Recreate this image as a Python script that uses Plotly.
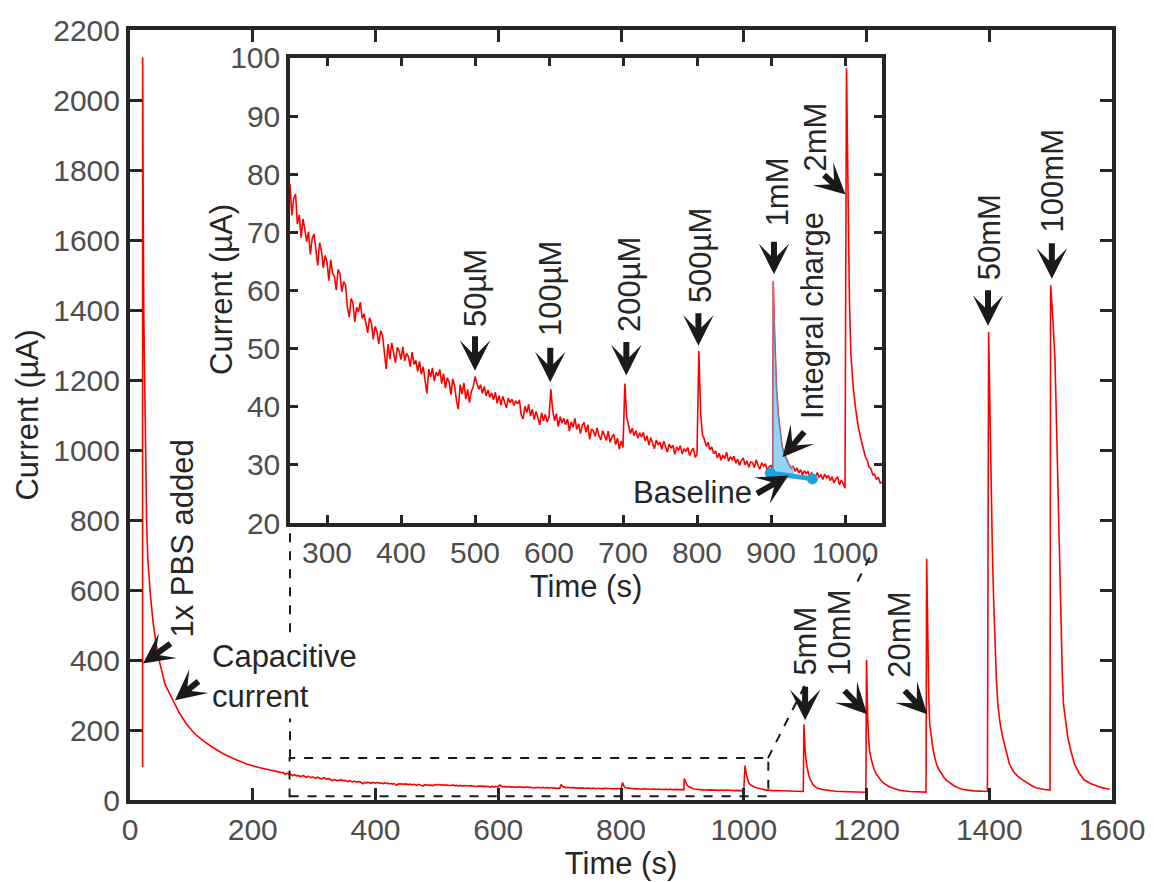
import numpy as np
import plotly.graph_objects as go

# ---------------------------------------------------------------------------
# Current trace (time in s, current in µA)
# ---------------------------------------------------------------------------
# Charging transient after 1x PBS is added
t_charge = [20.5, 20.6, 21.5, 22.5, 23.5, 25.5, 27, 29, 33, 38, 43, 49, 57, 63,
            70, 80, 92, 105, 120, 135, 152, 170, 190, 210, 228, 240, 245]
i_charge = [94, 2122, 1700, 1380, 1180, 1000, 800, 690, 590, 502, 440, 388, 331,
            308, 285, 250, 217, 190, 168, 150, 132, 117, 103, 93, 85, 81, 79]

# Low-concentration injections (50 µM ... 2 mM)
t_low = [
    250, 252.5, 255, 257.5, 260, 262.5, 265, 267.5, 270, 272.5,
    275, 277.5, 280, 282.5, 285, 287.5, 290, 292.5, 295, 297.5,
    300, 302.5, 305, 307.5, 310, 312.5, 315, 317.5, 320, 322.5,
    325, 327.5, 330, 332.5, 335, 337.5, 340, 342.5, 345, 347.5,
    350, 352.5, 355, 357.5, 360, 362.5, 365, 367.5, 370, 372.5,
    375, 377.5, 380, 382.5, 385, 387.5, 390, 392.5, 395, 397.5,
    400, 402.5, 405, 407.5, 410, 412.5, 415, 417.5, 420, 422.5,
    425, 427.5, 430, 432.5, 435, 437.5, 440, 442.5, 445, 447.5,
    450, 452.5, 455, 457.5, 460, 462.5, 465, 467.5, 470, 472.5,
    475, 477.5, 480, 482.5, 485, 487.5, 490, 492.5, 495, 497.5,
    500, 502.5, 505, 507.5, 510, 512.5, 515, 517.5, 520, 522.5,
    525, 527.5, 530, 532.5, 535, 537.5, 540, 542.5, 545, 547.5,
    550, 552.5, 555, 557.5, 560, 562.5, 565, 567.5, 570, 572.5,
    575, 577.5, 580, 582.5, 585, 587.5, 590, 592.5, 595, 597.5,
    600, 602.5, 605, 607.5, 610, 612.5, 615, 617.5, 620, 622.5,
    625, 627.5, 630, 632.5, 635, 637.5, 640, 642.5, 645, 647.5,
    650, 652.5, 655, 657.5, 660, 662.5, 665, 667.5, 670, 672.5,
    675, 677.5, 680, 682.5, 685, 687.5, 690, 692.5, 695, 697.5,
    700, 702.5, 705, 707.5, 710, 712.5, 715, 717.5, 720, 722.5,
    725, 727.5, 730, 732.5, 735, 737.5, 740, 742.5, 745, 747.5,
    750, 752.5, 755, 757.5, 760, 762.5, 765, 767.5, 770, 772.5,
    775, 777.5, 780, 782.5, 785, 787.5, 790, 792.5, 795, 797.5,
    800, 802.5, 805, 807.5, 810, 812.5, 815, 817.5, 820, 822.5,
    825, 827.5, 830, 832.5, 835, 837.5, 840, 842.5, 845, 847.5,
    850, 852.5, 855, 857.5, 860, 862.5, 865, 867.5, 870, 872.5,
    875, 877.5, 880, 882.5, 885, 887.5, 890, 892.5, 895, 897.5,
    900, 902.5, 903, 905, 907.5, 910, 912.5, 915, 917.5, 920, 922.5,
    925, 927.5, 930, 932.5, 935, 937.5, 940, 942.5, 945, 947.5,
    950, 952.5, 955, 957.5, 960, 962.5, 965, 967.5, 970, 972.5,
    975, 977.5, 980, 982.5, 985, 987.5, 990, 992.5, 995, 997.5,
    1000, 1002, 1004, 1006, 1008, 1011, 1014, 1018, 1022, 1025,
    1027.5, 1030, 1032.5, 1035, 1037.5, 1040, 1042.5, 1045, 1047.5, 1050]
i_low = [
    78.2, 72.9, 75.8, 76.6, 71.4, 73.0, 69.1, 72.3, 70.6, 68.4,
    70.1, 66.2, 68.9, 69.7, 67.0, 64.3, 68.2, 66.8, 63.9, 66.0,
    64.9, 61.7, 65.3, 63.0, 62.4, 60.1, 63.6, 62.9, 59.8, 61.5,
    61.0, 57.2, 55.4, 58.6, 57.9, 54.6, 57.1, 56.3, 58.0, 55.2,
    56.0, 54.1, 52.7, 55.3, 54.4, 51.6, 53.8, 52.9, 50.8, 53.1,
    52.3, 49.4, 46.5, 50.8, 48.2, 51.0, 49.3, 47.6, 50.2, 49.6,
    48.1, 50.3, 47.9, 49.2, 48.6, 46.9, 49.4, 47.3, 48.0, 46.1,
    47.8, 45.6, 46.9, 44.8, 42.3, 46.5, 45.1, 46.7, 44.4, 45.9,
    45.3, 46.4, 44.0, 45.7, 43.2, 45.0, 44.3, 42.1, 44.8, 43.6,
    41.0, 39.6, 43.8, 42.2, 44.1, 41.3, 43.0, 40.7, 42.6, 43.4,
    45.2, 44.1, 43.0, 43.8, 42.3, 43.5, 41.9, 42.9, 41.6, 42.4,
    41.2, 42.5, 40.6, 41.9, 40.3, 41.8, 40.9, 39.8, 41.5, 40.7,
    41.3, 40.2, 41.0, 40.5, 41.2, 38.6, 37.9, 40.1, 39.0, 40.4,
    38.4, 39.6, 37.8, 39.2, 38.1, 36.9, 39.0, 37.6, 38.7, 37.4,
    38.2, 43.0, 39.4, 37.6, 38.8, 36.6, 38.3, 37.2, 38.0, 36.9,
    37.9, 35.8, 37.4, 36.5, 38.0, 36.1, 37.1, 35.4, 36.8, 37.3,
    35.6, 36.9, 34.4, 36.2, 35.8, 34.9, 36.4, 35.0, 34.3, 35.9,
    35.1, 34.2, 35.8, 33.9, 34.8, 35.3, 33.5, 34.6, 32.7, 34.1,
    33.0, 44.0, 38.2, 36.6, 35.4, 36.3, 35.0, 35.9, 34.6, 35.5,
    34.8, 35.6, 34.1, 35.0, 33.4, 34.7, 33.9, 32.8, 34.3, 33.5,
    33.9, 32.7, 34.1, 33.0, 32.2, 33.6, 32.9, 33.4, 31.8, 33.1,
    32.5, 33.3, 31.9, 32.8, 32.3, 33.0, 31.6, 32.4, 32.9, 31.3,
    31.8, 49.6, 38.5, 35.1, 34.4, 33.2, 33.9, 32.6, 33.1, 31.9,
    32.4, 31.2, 32.0, 30.8, 31.7, 31.1, 32.2, 30.6, 31.4, 30.9,
    31.5, 30.3, 31.0, 29.9, 30.8, 31.2, 30.0, 30.7, 29.6, 30.5,
    30.4, 29.5, 30.9, 29.9, 29.3, 30.4, 29.8, 30.2, 29.1, 29.7,
    29.9, 29.3, 61.6, 52.0, 43.0, 38.5, 35.6, 33.2, 32.0, 31.2, 30.5,
    29.9, 29.4, 29.8, 28.9, 29.5, 28.6, 29.2, 28.3, 29.0, 28.5,
    28.9, 27.9, 28.6, 28.2, 27.6, 28.7, 27.9, 28.3, 27.5, 28.4,
    27.8, 28.2, 27.3, 28.0, 26.9, 27.6, 27.9, 26.6, 27.4, 26.8,
    26.0, 98.2, 75.0, 58.0, 49.0, 43.5, 40.0, 36.5, 34.2, 32.9,
    31.4, 30.8, 29.6, 29.4, 28.3, 28.4, 27.5, 27.9, 26.9, 27.0]

# High-concentration injections (5 mM ... 100 mM)
t_high = [1060, 1075, 1090, 1097,
          1098, 1099, 1100, 1102, 1104, 1106, 1108, 1110, 1113, 1116, 1120,
          1127, 1135, 1150, 1170, 1190, 1199,
          1200, 1201, 1202, 1203.5, 1205, 1207.5, 1210, 1213, 1216, 1220, 1224,
          1228, 1232, 1237, 1243, 1254, 1270, 1285, 1297,
          1298, 1299, 1300, 1301.5, 1303, 1305.5, 1308, 1311, 1314, 1318, 1322,
          1326, 1330, 1336, 1343, 1350, 1357, 1375, 1397,
          1399, 1400.5, 1402, 1403.5, 1405, 1407, 1409, 1411.5, 1414, 1418,
          1422, 1427, 1433, 1440, 1447, 1455, 1462, 1470, 1476, 1482, 1490,
          1499,
          1500, 1503.5, 1507, 1509, 1511, 1512.5, 1514, 1515.5, 1517, 1519,
          1521, 1524, 1528, 1533, 1539, 1546, 1555, 1565, 1575, 1582, 1590,
          1596]
i_high = [26.2, 25.4, 24.6, 24.2,
          216, 170, 140, 105, 85, 70, 60, 51, 43, 38, 34,
          30, 28, 25, 23.5, 22.5, 22.3,
          401, 300, 230, 175, 142, 117, 100, 85, 74, 63, 55,
          48, 43, 38, 34, 28, 24.5, 23, 22.5,
          689, 520, 420, 290, 216, 178, 150, 123, 103, 87, 75,
          65, 57, 48, 40, 34, 30, 26, 24.5,
          1337, 1170, 1000, 850, 720, 580, 464, 350, 273, 215,
          179, 140, 102, 80, 67, 57, 48, 40, 35, 32, 30,
          28.5,
          1471, 1380, 1261, 1120, 976, 830, 691, 570, 464, 360,
          273, 225, 179, 140, 102, 78, 57, 47, 40, 36, 33,
          31]

# Linear baseline used for the 1 mM charge integration
baseline_t = [899, 956]
baseline_i = [28.6, 27.6]
charge_window = [902, 931]

# Tick values
x_ticks_main = list(range(0, 1601, 200))
y_ticks_main = list(range(0, 2201, 200))
x_ticks_inset = list(range(300, 1001, 100))
y_ticks_inset = list(range(20, 101, 10))

time_s = np.array(t_charge + t_low + t_high, dtype=float)
current_uA = np.array(i_charge + i_low + i_high, dtype=float)

# ---------------------------------------------------------------------------
# Figure geometry (pixels of the 1165 x 882 page)
# ---------------------------------------------------------------------------
W, H = 1165, 882
L, R, T, B = 130, 1112, 30, 803          # main plot area
IL, IR, IT, IB = 290, 882, 58, 525       # inset plot area


def fx(px):
    return (px - L) / (R - L)


def fy(py):
    return (B - py) / (B - T)


FONT = "Liberation Sans, Arial, Helvetica, sans-serif"
TXT = "#262626"
TICK = "#4d4d4d"
AX = "#262626"
RED = "#ff0000"
BLUE = "#1fa3e0"

fig = go.Figure()

# main trace
fig.add_trace(go.Scatter(x=time_s, y=current_uA, mode="lines",
                         line=dict(color=RED, width=1.6),
                         xaxis="x", yaxis="y", hoverinfo="skip"))

# inset trace (same record, zoomed)
fig.add_trace(go.Scatter(x=time_s, y=current_uA, mode="lines",
                         line=dict(color=RED, width=1.6),
                         xaxis="x2", yaxis="y2", hoverinfo="skip"))

# integral-charge area between the 1 mM peak and the baseline
sel = (time_s >= charge_window[0]) & (time_s <= charge_window[1])
edge_t = time_s[sel]
edge_i = current_uA[sel]
base_ends = np.interp([edge_t[-1], edge_t[0]], baseline_t, baseline_i)
poly_t = np.concatenate([edge_t, [edge_t[-1], edge_t[0]]])
poly_i = np.concatenate([edge_i, base_ends])
fig.add_trace(go.Scatter(x=poly_t, y=poly_i, mode="lines", fill="toself",
                         fillcolor="rgba(70,185,240,0.6)",
                         line=dict(color="rgba(70,185,240,0.6)", width=1),
                         xaxis="x2", yaxis="y2", hoverinfo="skip"))

# baseline segment
fig.add_trace(go.Scatter(x=baseline_t, y=baseline_i, mode="lines+markers",
                         line=dict(color=BLUE, width=5),
                         marker=dict(color=BLUE, size=11),
                         xaxis="x2", yaxis="y2", hoverinfo="skip"))

axis_common = dict(showline=True, linecolor=AX, mirror="ticks", ticks="inside",
                   showgrid=False, zeroline=False,
                   tickfont=dict(family=FONT, size=30, color=TICK),
                   tickcolor=AX)

fig.update_layout(
    width=W, height=H,
    margin=dict(l=L, r=W - R, t=T, b=H - B),
    paper_bgcolor="white", plot_bgcolor="white",
    showlegend=False,
    font=dict(family=FONT, color=TXT),
    xaxis=dict(domain=[0, 1], range=[0, 1600], tickvals=x_ticks_main,
               linewidth=4, ticklen=12, tickwidth=3,
               title=dict(text="Time (s)", font=dict(size=31, color=TXT), standoff=2),
               **axis_common),
    yaxis=dict(domain=[0, 1], range=[0, 2200], tickvals=y_ticks_main,
               linewidth=4, ticklen=12, tickwidth=3,
               title=dict(text="Current (µA)", font=dict(size=31, color=TXT), standoff=6),
               **axis_common),
    xaxis2=dict(domain=[fx(IL), fx(IR)], range=[250, 1050], tickvals=x_ticks_inset,
                anchor="y2", linewidth=3.5, ticklen=8, tickwidth=3,
                title=dict(text="Time (s)", font=dict(size=31, color=TXT), standoff=2),
                **axis_common),
    yaxis2=dict(domain=[fy(IB), fy(IT)], range=[20, 100], tickvals=y_ticks_inset,
                anchor="x2", linewidth=3.5, ticklen=8, tickwidth=3,
                **axis_common),
)

# zoom window and its connectors
dash = dict(color="#1a1a1a", width=2, dash="dash")
fig.add_shape(type="rect", xref="x", yref="y", x0=260, x1=1040, y0=11, y1=120,
              line=dash, layer="above")
fig.add_shape(type="line", xref="paper", yref="paper",
              x0=fx(IL), y0=fy(761), x1=fx(IL), y1=fy(IB), line=dash)
fig.add_shape(type="line", xref="paper", yref="paper",
              x0=fx(768), y0=fy(761), x1=fx(873), y1=fy(553), line=dash)


def label(text, px, py, angle=-90, bg=None, align="center", xanchor="center"):
    fig.add_annotation(text=text, xref="paper", yref="paper", x=fx(px), y=fy(py),
                       xanchor=xanchor, yanchor="middle", textangle=angle,
                       showarrow=False, align=align,
                       font=dict(family=FONT, size=31, color=TXT),
                       bgcolor=bg, borderpad=4)


def arrow(xref, yref, x, y, ax, ay):
    fig.add_annotation(text="", xref=xref, yref=yref, x=x, y=y, ax=ax, ay=ay,
                       showarrow=True, arrowhead=3, arrowsize=0.85, arrowwidth=6,
                       arrowcolor="#1a1a1a", standoff=0, startstandoff=0)


# inset y-axis title
label("Current (µA)", 222, 291)

# main-panel labels
label("1x PBS added", 182.5, 541)
label("Capacitive<br>current", 207, 679, angle=0, bg="white", align="left",
      xanchor="left")
label("5mM", 806, 644, bg="white")
label("10mM", 840, 635, bg="white")
label("20mM", 900, 637)
label("50mM", 989, 238)
label("100mM", 1052, 182)

arrow("x", "y", 21.2, 390, 29, -21)
arrow("x", "y", 73.3, 285, 25, -20)
arrow("x", "y", 1100, 228, 0, -35)
arrow("x", "y", 1201, 245, -24, -25)
arrow("x", "y", 1299, 245, -24, -25)
arrow("x", "y", 1398, 1355, 0, -37)
arrow("x", "y", 1502, 1489, 0, -37)

# inset labels
label("50µM", 476, 289)
label("100µM", 551, 290)
label("200µM", 629, 286)
label("500µM", 700, 257)
label("1mM", 777, 193)
label("Integral charge", 813, 317)
label("2mM", 816, 138)
label("Baseline", 692, 494, angle=0)

arrow("x2", "y2", 500, 46.2, 0, -36)
arrow("x2", "y2", 601.7, 44.2, 0, -36)
arrow("x2", "y2", 704.5, 45.4, 0, -35)
arrow("x2", "y2", 801.9, 50.5, 0, -34)
arrow("x2", "y2", 904, 62.8, 0, -34)
arrow("x2", "y2", 915.5, 31.3, 23, -27)
arrow("x2", "y2", 1000.7, 76.5, -23, -21)
arrow("x2", "y2", 923.6, 28.2, -33, 19)

fig.write_html("out.html")
